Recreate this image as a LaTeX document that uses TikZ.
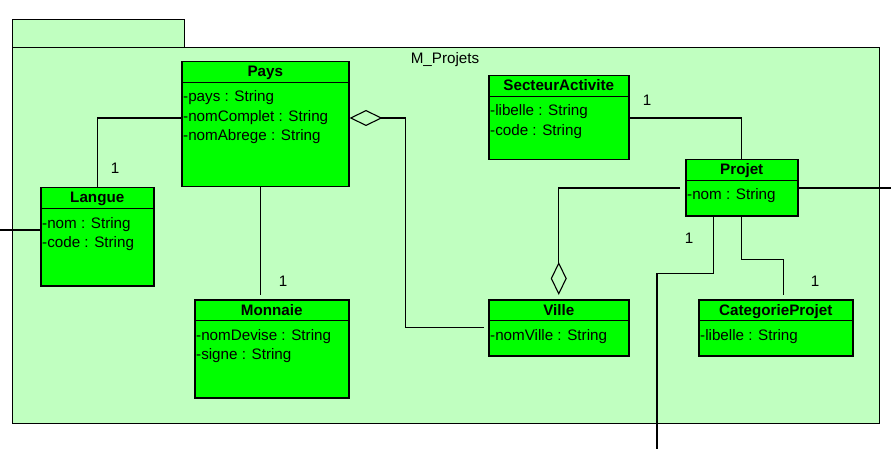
\documentclass[tikz,border=0pt]{standalone}
\usepackage{fontspec}
\setmainfont{Liberation Sans}
\usetikzlibrary{arrows.meta}
\definecolor{pkgfill}{RGB}{192,255,192}
\definecolor{clsfill}{RGB}{0,255,0}
\tikzset{
 pkg/.style={draw=black, fill=pkgfill, line width=1.2pt},
 cls/.style={draw=black, fill=clsfill, line width=1.5pt, inner sep=0pt, rectangle},
 sepline/.style={draw=black, line width=1.5pt},
 ttl/.style={font=\fontsize{15.2}{18}\selectfont\bfseries, inner sep=0pt, anchor=base},
 att/.style={font=\fontsize{15.2}{18}\selectfont, inner sep=0pt, anchor=base west},
 conn/.style={draw=black, line width=1.1pt},
 mult/.style={font=\fontsize{15.2}{18}\selectfont, inner sep=0pt},
 aggd/.tip={Diamond[open, length=33pt, width=16pt, line width=1.1pt]},
}
\newcommand\umlclass[7]{%
 \node[cls, minimum width=#4pt, minimum height=#5pt, anchor=north west] (#1) at (#2,#3) {};
 \draw[sepline] ([yshift=-21.5pt]#1.north west) -- ([yshift=-21.5pt]#1.north east);
 \node[ttl] (#1-t) at ([yshift=-16pt]#1.north) {#6};
 \foreach \a [count=\i] in {#7} {
   \node[att] (#1-a\i) at ([xshift=2pt, yshift={-21.5pt-19.5pt*\i}]#1.north west) {\a};
 }
}
\begin{document}
\begin{tikzpicture}[x=1pt, y=-1pt]
\useasboundingbox (0,0) rectangle (891,449);
% package
\node[pkg, minimum width=172pt, minimum height=28pt, anchor=north west, inner sep=0pt] (tab) at (12,19) {};
\node[pkg, minimum width=867pt, minimum height=376pt, anchor=north west, inner sep=0pt] (pkgbody) at (12,47) {};
\node[att, anchor=base] (pkgname) at (445,64) {M\_Projets};
% classes
\umlclass{pays}{181}{61}{167}{125}{Pays}{-pays : String, -nomComplet : String, -nomAbrege : String}
\umlclass{langue}{40}{187}{113}{98}{Langue}{-nom : String, -code : String}
\umlclass{monnaie}{194}{299}{154}{98}{Monnaie}{-nomDevise : String, -signe : String}
\umlclass{secteur}{488}{75}{140}{84}{SecteurActivite}{-libelle : String, -code : String}
\umlclass{projet}{685}{159}{112}{56}{Projet}{-nom : String}
\umlclass{ville}{488}{299}{140}{56}{Ville}{-nomVille : String}
\umlclass{categ}{698}{299}{154}{56}{CategorieProjet}{-libelle : String}
% free ends
\coordinate (lfree) at (0,230);
\coordinate (rfree) at (891,188);
\coordinate (bfree) at (657,449);
% connectors
\draw[conn] (langue.north) |- ([yshift=-57pt]pays.north west);
\draw[conn] ([yshift=-43pt]langue.north west) -- (lfree);
\draw[conn, shorten >=4pt] ([xshift=-4.5pt]pays.south) -- ([xshift=-11pt]monnaie.north);
\draw[conn, aggd-, shorten >=4pt] ([yshift=-57pt]pays.north east) -- ++(56,0) |- (ville.west);
\draw[conn] ([yshift=-43pt]secteur.north east) -| (projet.north);
\draw[conn, -aggd, shorten <=5pt, shorten >=4pt] ([yshift=-29pt]projet.north west) -| (ville.north);
\draw[conn] ([yshift=-29pt]projet.north east) -- (rfree);
\draw[conn] ([xshift=-28pt]projet.south) -- ++(0,57) -| (bfree);
\draw[conn, shorten >=4pt] (projet.south) -- ++(0,43) -| ([xshift=8pt]categ.north);
% multiplicities
\node[mult] (m1) at (115,168.5) {1};
\node[mult] (m2) at (283,281) {1};
\node[mult] (m3) at (647,100) {1};
\node[mult] (m4) at (689,238) {1};
\node[mult] (m5) at (815,281) {1};
\end{tikzpicture}
\end{document}
